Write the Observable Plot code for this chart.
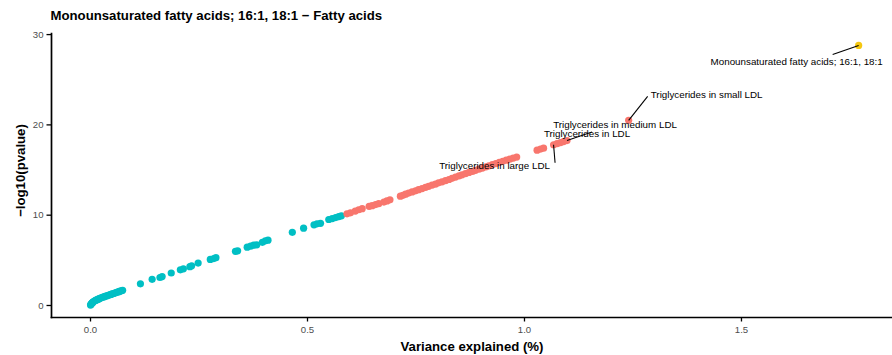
<!DOCTYPE html>
<html><head><meta charset="utf-8">
<script src="https://cdn.jsdelivr.net/npm/d3@7"></script>
<script src="https://cdn.jsdelivr.net/npm/@observablehq/plot@0.6"></script>
<style>body{margin:0;background:#fff;font-family:"Liberation Sans",Arial,sans-serif}</style>
</head><body><div id="chart"></div>
<script>
const chartTitle = "Monounsaturated fatty acids; 16:1, 18:1 \u2212 Fatty acids";
const xTitle = "Variance explained (%)";
const yTitle = "\u2212log10(pvalue)";
const xTicks = [0, 0.5, 1, 1.5];
const xTickLabels = ["0.0", "0.5", "1.0", "1.5"];
const yTicks = [0, 10, 20, 30];

// non-significant (teal) traits
const nsVariance = [0.000,0.001,0.002,0.003,0.004,0.005,0.006,0.008,0.010,0.012,0.014,0.016,0.018,0.020,0.023,0.026,0.029,0.032,0.035,0.038,0.041,0.044,0.047,0.050,0.053,0.056,0.059,0.062,0.065,0.068,0.071,0.074,
  0.115,0.142,0.160,0.165,0.186,0.207,0.214,0.229,0.233,0.248,0.276,0.284,0.289,0.334,0.339,0.361,0.369,0.376,0.383,0.396,0.403,0.409,0.465,0.491,0.515,0.522,0.530,0.549,0.557,0.565,0.572,0.578];
const nsLogP = [0.05,0.12,0.18,0.24,0.30,0.34,0.38,0.46,0.52,0.57,0.62,0.66,0.70,0.75,0.82,0.88,0.93,0.98,1.03,1.08,1.13,1.18,1.23,1.28,1.33,1.38,1.43,1.48,1.53,1.58,1.63,1.68,
  2.40,2.90,3.10,3.20,3.60,3.95,4.06,4.30,4.40,4.70,5.10,5.20,5.30,6.00,6.05,6.46,6.57,6.68,6.72,7.00,7.16,7.23,8.10,8.56,8.93,9.04,9.10,9.52,9.63,9.74,9.85,9.93];

// significant (red) traits
const sigVariance = [0.591,0.599,0.610,0.618,0.626,0.642,0.649,0.657,0.664,0.676,0.683,0.690,0.714,0.720,0.726,0.733,0.741,0.749,0.756,0.764,0.772,0.779,0.787,0.795,0.802,0.810,0.818,0.826,0.833,0.841,0.849,0.856,0.864,0.872,0.880,0.887,0.895,0.903,0.911,0.918,0.926,0.934,0.942,0.950,0.958,0.966,0.974,0.982,
  1.029,1.037,1.044,1.067,1.075,1.083,1.090,1.098,1.240];
const sigLogP = [10.15,10.26,10.45,10.60,10.72,10.98,11.05,11.17,11.28,11.45,11.58,11.70,12.10,12.20,12.33,12.45,12.58,12.70,12.83,12.95,13.08,13.20,13.33,13.45,13.58,13.70,13.82,13.95,14.08,14.22,14.35,14.47,14.60,14.73,14.85,14.97,15.10,15.22,15.35,15.47,15.60,15.72,15.85,15.97,16.09,16.20,16.32,16.44,
  17.20,17.32,17.42,17.80,17.92,18.04,18.15,18.26,20.50];

// the trait itself (gold)
const selfVariance = [1.770];
const selfLogP = [28.80];

// labelled traits
const labelNames = ["Monounsaturated fatty acids; 16:1, 18:1", "Triglycerides in small LDL", "Triglycerides in medium LDL", "Triglycerides in LDL", "Triglycerides in large LDL"];
const labelVariance = [1.770, 1.240, 1.098, 1.083, 1.067];
const labelLogP = [28.80, 20.50, 18.26, 18.04, 17.80];

const groupColors = {ns: "#00BFC4", sig: "#F8766D", self: "#F5C710"};

// ---- build table ----
const points = [
  ...nsVariance.map((v, i) => ({x: v, y: nsLogP[i], g: "ns"})),
  ...sigVariance.map((v, i) => ({x: v, y: sigLogP[i], g: "sig"})),
  ...selfVariance.map((v, i) => ({x: v, y: selfLogP[i], g: "self"}))
];

// layout (pixel offsets of label text centre and leader end, relative to point)
const labelLayout = [
  {tdx: -62, tdy: 16.5, ldx: -26, ldy: 9},
  {tdx: 78, tdy: -26, ldx: 19, ldy: -24},
  {tdx: 48, tdy: -15.6, ldx: 25, ldy: -8.5},
  {tdx: 26.5, tdy: -9, ldx: 0, ldy: 0},
  {tdx: -59, tdy: 21.4, ldx: 1.5, ldy: 18}
];

const W = 892, H = 355;
const mL = 51, mR = 0, mT = 33, mB = 38;
const xDomain = [-0.0899, 1.848];
const yDomain = [-1.33, 30.12];
const xs = d3.scaleLinear(xDomain, [mL, W - mR]);
const ys = d3.scaleLinear(yDomain, [H - mB, mT]);

const labels = labelNames.map((n, i) => {
  const px = xs(labelVariance[i]), py = ys(labelLogP[i]);
  const L = labelLayout[i];
  return {
    name: n, x: labelVariance[i], y: labelLogP[i],
    tx: xs.invert(px + L.tdx), ty: ys.invert(py + L.tdy),
    lx: xs.invert(px + L.ldx), ly: ys.invert(py + L.ldy),
    hasLine: L.ldx !== 0 || L.ldy !== 0
  };
});

const grey = "#4D4D4D";
const plot = Plot.plot({
  width: W, height: H,
  marginLeft: mL, marginRight: mR, marginTop: mT, marginBottom: mB,
  style: {fontFamily: "'Liberation Sans', Arial, sans-serif", background: "white", overflow: "visible"},
  x: {domain: xDomain, label: null},
  y: {domain: yDomain, label: null},
  marks: [
    Plot.dot(points, {x: "x", y: "y", r: 3.6, fill: d => groupColors[d.g], stroke: "none"}),
    Plot.link(labels.filter(d => d.hasLine), {x1: "x", y1: "y", x2: "lx", y2: "ly", stroke: "black", strokeWidth: 1.1}),
    Plot.text(labels, {x: "tx", y: "ty", text: "name", fontSize: 9.8, fill: "black", textAnchor: "middle", lineAnchor: "middle"}),
    Plot.axisX({ticks: xTicks, tickSize: 4.5, stroke: "black", strokeWidth: 1.3, text: null, label: null}),
    Plot.axisX({ticks: xTicks, tickSize: 0, tickPadding: 9, tickFormat: (d, i) => xTickLabels[xTicks.indexOf(d)], fontSize: 9.6, fill: grey, label: null}),
    Plot.axisY({ticks: yTicks, tickSize: 4.5, stroke: "black", strokeWidth: 1.3, text: null, label: null}),
    Plot.axisY({ticks: yTicks, tickSize: 0, tickPadding: 8, fontSize: 9.6, fill: grey, label: null}),
    Plot.frame({anchor: "bottom", stroke: "black", strokeWidth: 1.7}),
    Plot.frame({anchor: "left", stroke: "black", strokeWidth: 1.7}),
    Plot.text([chartTitle], {frameAnchor: "top-left", dx: -1, dy: -18, fontSize: 13.2, fontWeight: "bold", fill: "black", textAnchor: "start", lineAnchor: "middle"}),
    Plot.text([xTitle], {frameAnchor: "bottom", dy: 29, fontSize: 13.2, fontWeight: "bold", fill: "black", textAnchor: "middle", lineAnchor: "middle"}),
    Plot.text([yTitle], {frameAnchor: "left", dx: -31, dy: -5, rotate: -90, fontSize: 13.2, fontWeight: "bold", fill: "black", textAnchor: "middle", lineAnchor: "middle"})
  ]
});
document.getElementById("chart").appendChild(plot);
</script>
</body></html>
